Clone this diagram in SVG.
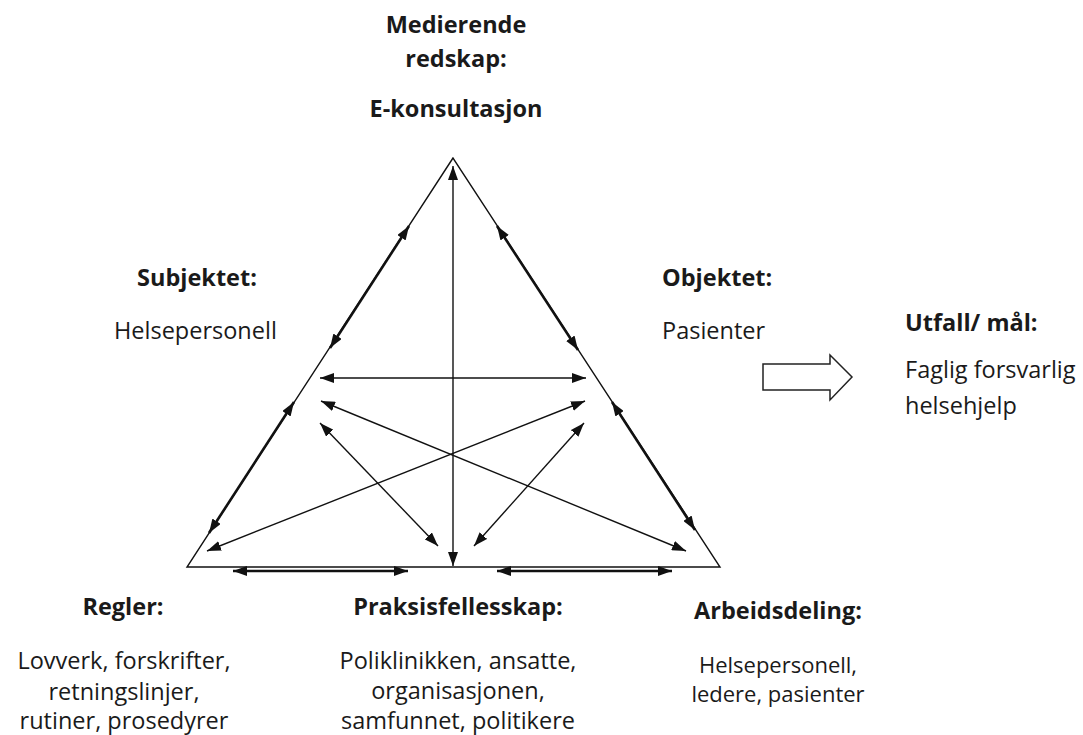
<svg xmlns="http://www.w3.org/2000/svg" width="1083" height="735" viewBox="0 0 1083 735">
<style>
text{font-family:"Open Sans","Noto Sans","Liberation Sans",sans-serif;fill:#1a1a1a;}
.b{font-weight:bold;font-size:23.5px;}
.r{font-size:23.5px;}
.s{font-size:22px;}
.c{text-anchor:middle;}
.thin{stroke:#111;stroke-width:1.4;fill:none;}
.thick{stroke:#111;stroke-width:2.6;fill:none;}
</style>
<defs>
<marker id="ah" viewBox="0 0 14 10" refX="14" refY="5" markerUnits="userSpaceOnUse" markerWidth="14" markerHeight="10" orient="auto-start-reverse">
<path d="M0,0 L14,5 L0,10 z" fill="#111"/>
</marker>
</defs>
<rect width="1083" height="735" fill="#fff"/>
<g id="triangle">
<polygon points="453,158 187,567 720,567" class="thin" stroke-linejoin="miter"/>
</g>
<g id="connectors">
<line x1="453" y1="166" x2="453" y2="566" class="thin" marker-start="url(#ah)" marker-end="url(#ah)"/>
<line x1="409" y1="226" x2="330" y2="348" class="thick" marker-start="url(#ah)" marker-end="url(#ah)"/>
<line x1="294" y1="402" x2="209" y2="533" class="thick" marker-start="url(#ah)" marker-end="url(#ah)"/>
<line x1="497" y1="226" x2="578" y2="350" class="thick" marker-start="url(#ah)" marker-end="url(#ah)"/>
<line x1="612" y1="402" x2="695" y2="530" class="thick" marker-start="url(#ah)" marker-end="url(#ah)"/>
<line x1="233" y1="571" x2="408" y2="571" class="thick" marker-start="url(#ah)" marker-end="url(#ah)"/>
<line x1="497" y1="571" x2="672" y2="571" class="thick" marker-start="url(#ah)" marker-end="url(#ah)"/>
<line x1="320" y1="378" x2="586" y2="378" class="thin" marker-start="url(#ah)" marker-end="url(#ah)"/>
<line x1="321" y1="401" x2="686" y2="551" class="thin" marker-start="url(#ah)" marker-end="url(#ah)"/>
<line x1="585" y1="401" x2="207" y2="551" class="thin" marker-start="url(#ah)" marker-end="url(#ah)"/>
<line x1="320" y1="423" x2="438" y2="546" class="thin" marker-start="url(#ah)" marker-end="url(#ah)"/>
<line x1="584" y1="423" x2="474" y2="546" class="thin" marker-start="url(#ah)" marker-end="url(#ah)"/>
</g>
<g id="outcome-arrow">
<polygon points="763,364 830,364 830,355 852,377 830,400 830,390 763,390" fill="#fff" stroke="#222" stroke-width="1.5"/>
</g>
<g id="node-tool">
<text class="b c" x="456" y="33">Medierende</text>
<text class="b c" x="456" y="67">redskap:</text>
<text class="b c" x="456" y="117">E-konsultasjon</text>
</g>
<g id="node-subject">
<text class="b" x="137" y="286">Subjektet:</text>
<text class="r" x="114" y="339">Helsepersonell</text>
</g>
<g id="node-object">
<text class="b" x="662" y="286">Objektet:</text>
<text class="r" x="662" y="339">Pasienter</text>
</g>
<g id="node-outcome">
<text class="b" x="905" y="331">Utfall/ mål:</text>
<text class="r" x="905" y="378">Faglig forsvarlig</text>
<text class="r" x="905" y="414">helsehjelp</text>
</g>
<g id="node-rules">
<text class="b c" x="123" y="615">Regler:</text>
<text class="r c" x="124" y="669">Lovverk, forskrifter,</text>
<text class="r c" x="124" y="700">retningslinjer,</text>
<text class="r c" x="124" y="729">rutiner, prosedyrer</text>
</g>
<g id="node-community">
<text class="b c" x="458" y="615">Praksisfellesskap:</text>
<text class="r c" x="458" y="669">Poliklinikken, ansatte,</text>
<text class="r c" x="458" y="699">organisasjonen,</text>
<text class="r c" x="458" y="729">samfunnet, politikere</text>
</g>
<g id="node-division">
<text class="b c" x="778" y="619">Arbeidsdeling:</text>
<text class="s c" x="778" y="673">Helsepersonell,</text>
<text class="s c" x="778" y="702">ledere, pasienter</text>
</g>
</svg>
